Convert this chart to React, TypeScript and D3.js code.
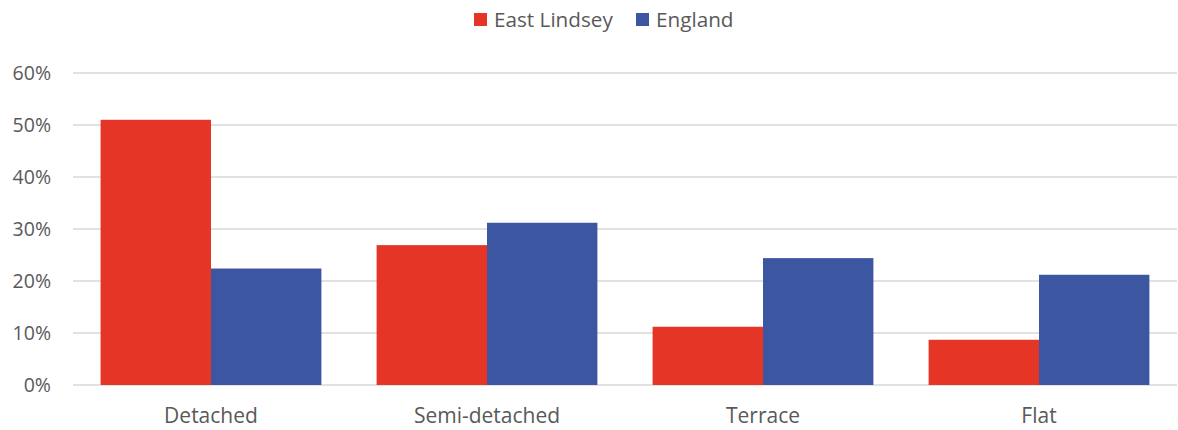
import React, { useRef, useEffect } from 'react';
import * as d3 from 'd3';

const categories = ['Detached', 'Semi-detached', 'Terrace', 'Flat'];
const seriesNames = ['East Lindsey', 'England'];
const eastLindsey = [51.0, 26.9, 11.2, 8.7];
const england = [22.4, 31.2, 24.4, 21.2];
const yTicks = [0, 10, 20, 30, 40, 50, 60];
const colors = ['#E43526', '#3C56A2'];

const App = () => {
  const svgRef = useRef<SVGSVGElement>(null);

  useEffect(() => {
    const width = 1178;
    const height = 430;
    const margin = { top: 73, right: 1, bottom: 45, left: 73 };
    const font = '"Open Sans", sans-serif';

    const svg = d3.select(svgRef.current);
    svg.selectAll('*').remove();

    const x = d3
      .scaleBand()
      .domain(categories)
      .range([margin.left, width - margin.right])
      .paddingInner(0.2)
      .paddingOuter(0.1);

    const xSub = d3.scaleBand().domain(seriesNames).range([0, x.bandwidth()]);

    const y = d3
      .scaleLinear()
      .domain([0, 60])
      .range([height - margin.bottom, margin.top]);

    // gridlines
    svg
      .append('g')
      .selectAll('line')
      .data(yTicks)
      .join('line')
      .attr('x1', margin.left)
      .attr('x2', width - margin.right)
      .attr('y1', (d) => y(d))
      .attr('y2', (d) => y(d))
      .attr('stroke', '#D9D9D9')
      .attr('stroke-width', 1.5);

    // y labels
    svg
      .append('g')
      .selectAll('text')
      .data(yTicks)
      .join('text')
      .attr('x', 51)
      .attr('y', (d) => y(d))
      .attr('dy', '0.35em')
      .attr('text-anchor', 'end')
      .attr('fill', '#595959')
      .style('font-family', font)
      .style('font-size', '19.5px')
      .text((d) => `${d}%`);

    // bars
    const series = [eastLindsey, england];
    series.forEach((vals, si) => {
      svg
        .append('g')
        .selectAll('rect')
        .data(vals)
        .join('rect')
        .attr('x', (d, i) => (x(categories[i]) as number) + (xSub(seriesNames[si]) as number))
        .attr('y', (d) => y(d))
        .attr('width', xSub.bandwidth())
        .attr('height', (d) => y(0) - y(d))
        .attr('fill', colors[si]);
    });

    // x labels
    svg
      .append('g')
      .selectAll('text')
      .data(categories)
      .join('text')
      .attr('x', (d) => (x(d) as number) + x.bandwidth() / 2)
      .attr('y', 423)
      .attr('text-anchor', 'middle')
      .attr('fill', '#595959')
      .style('font-family', font)
      .style('font-size', '21px')
      .text((d) => d);

    // legend
    const legendX = [474, 636];
    seriesNames.forEach((name, i) => {
      const g = svg.append('g').attr('transform', `translate(${legendX[i]},13)`);
      g.append('rect').attr('width', 13).attr('height', 13).attr('fill', colors[i]);
      g.append('text')
        .attr('x', 20)
        .attr('y', 6.5)
        .attr('dy', '0.35em')
        .attr('fill', '#595959')
        .style('font-family', font)
        .style('font-size', '20.7px')
        .text(name);
    });
  }, []);

  return (
    <svg
      ref={svgRef}
      width={1178}
      height={430}
      style={{ position: 'absolute', left: 0, top: 0, background: '#fff' }}
    ></svg>
  );
};

export default App;
